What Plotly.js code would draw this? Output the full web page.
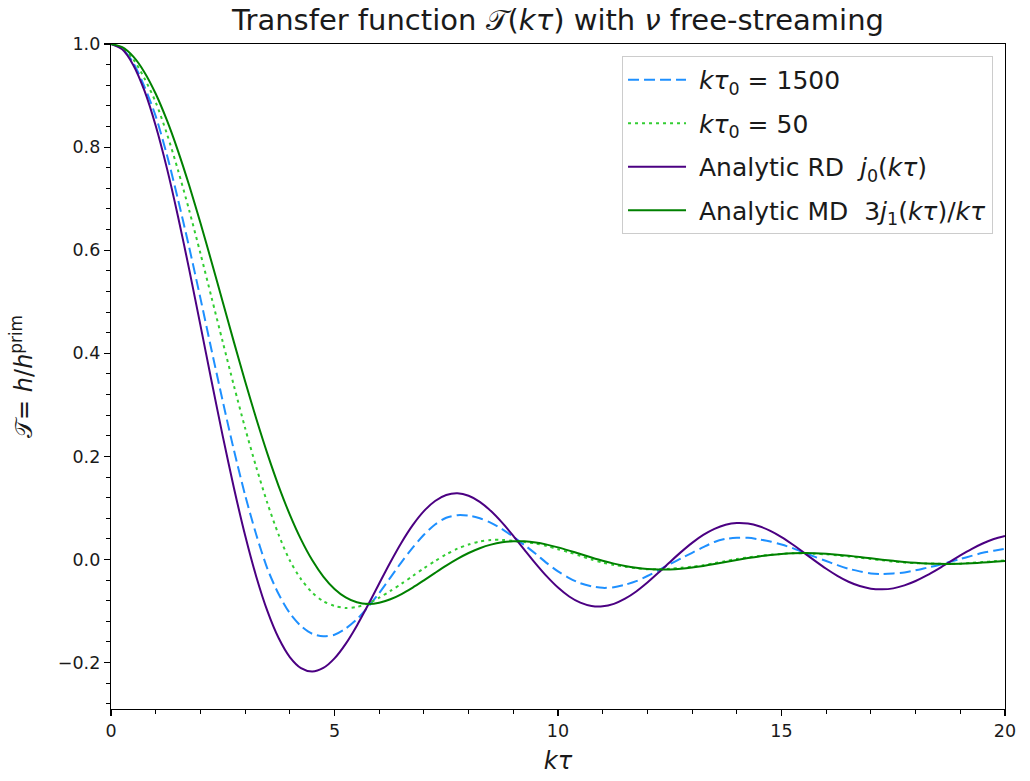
<!DOCTYPE html>
<html>
<head>
<meta charset="utf-8">
<script src="https://cdn.plot.ly/plotly-3.0.1.min.js"></script>
<style>
  html, body { margin: 0; padding: 0; background: #fff; }
  #chart { width: 1030px; height: 781px; }
</style>
</head>
<body>
<div id="chart"></div>
<script>
// k*tau sample points (step 0.25)
const kTau = [
  0, 0.25, 0.5, 0.75, 1, 1.25, 1.5, 1.75, 2, 2.25, 2.5, 2.75, 3, 3.25, 3.5, 3.75,
  4, 4.25, 4.5, 4.75, 5, 5.25, 5.5, 5.75, 6, 6.25, 6.5, 6.75, 7, 7.25, 7.5, 7.75,
  8, 8.25, 8.5, 8.75, 9, 9.25, 9.5, 9.75, 10, 10.25, 10.5, 10.75, 11, 11.25, 11.5, 11.75,
  12, 12.25, 12.5, 12.75, 13, 13.25, 13.5, 13.75, 14, 14.25, 14.5, 14.75, 15, 15.25, 15.5, 15.75,
  16, 16.25, 16.5, 16.75, 17, 17.25, 17.5, 17.75, 18, 18.25, 18.5, 18.75, 19, 19.25, 19.5, 19.75, 20];

// Numerical transfer function, k*tau0 = 1500
const freeStream1500 = [
  1.000, 0.991, 0.963, 0.917, 0.860, 0.785, 0.698, 0.605, 0.507, 0.406, 0.307, 0.212, 0.125, 0.048, -0.018, -0.067,
  -0.104, -0.129, -0.144, -0.149, -0.146, -0.134, -0.116, -0.092, -0.065, -0.035, -0.005, 0.023, 0.048, 0.068, 0.081, 0.086,
  0.085, 0.080, 0.071, 0.059, 0.044, 0.028, 0.011, -0.007, -0.023, -0.036, -0.046, -0.052, -0.055, -0.054, -0.049, -0.042,
  -0.032, -0.021, -0.009, 0.002, 0.013, 0.024, 0.034, 0.040, 0.042, 0.042, 0.039, 0.035, 0.029, 0.022, 0.0135, 0.005,
  -0.003, -0.011, -0.018, -0.023, -0.027, -0.028, -0.027, -0.025, -0.021, -0.016, -0.011, -0.005, 0.001, 0.007, 0.013, 0.017, 0.021];

// Numerical transfer function, k*tau0 = 50
const freeStream50 = [
  1.000, 0.992, 0.970, 0.933, 0.887, 0.826, 0.755, 0.677, 0.594, 0.508, 0.422, 0.337, 0.255, 0.179, 0.109, 0.048,
  -0.002, -0.038, -0.064, -0.081, -0.090, -0.094, -0.092, -0.085, -0.074, -0.061, -0.047, -0.032, -0.017, -0.003, 0.010, 0.021,
  0.029, 0.035, 0.038, 0.038, 0.036, 0.034, 0.031, 0.026, 0.020, 0.014, 0.007, 0.000, -0.006, -0.0105, -0.014, -0.017,
  -0.019, -0.019, -0.018, -0.016, -0.014, -0.011, -0.007, -0.003, 0.001, 0.004, 0.007, 0.009, 0.011, 0.012, 0.012, 0.011,
  0.010, 0.008, 0.006, 0.0035, 0.001, -0.0015, -0.004, -0.006, -0.007, -0.0077, -0.008, -0.0083, -0.008, -0.0067, -0.005, -0.0035, -0.002];

// Radiation-dominated analytic solution j0(k tau)
const analyticRD = [
  1.0000, 0.9896, 0.9589, 0.9089, 0.8415, 0.7592, 0.6650, 0.5623, 0.4546, 0.3458, 0.2394, 0.1388, 0.0470, -0.0333, -0.1002, -0.1524,
  -0.1892, -0.2106, -0.2172, -0.2104, -0.1918, -0.1636, -0.1283, -0.0884, -0.0466, -0.0053, 0.0331, 0.0667, 0.0939, 0.1135, 0.1251, 0.1283,
  0.1237, 0.1118, 0.0939, 0.0714, 0.0458, 0.0188, -0.0079, -0.0328, -0.0544, -0.0717, -0.0838, -0.0902, -0.0909, -0.0860, -0.0761, -0.0620,
  -0.0447, -0.0254, -0.0053, 0.0143, 0.0323, 0.0477, 0.0595, 0.0674, 0.0708, 0.0697, 0.0645, 0.0555, 0.0434, 0.0290, 0.0134, -0.0027,
  -0.0180, -0.0317, -0.0432, -0.0515, -0.0566, -0.0579, -0.0560, -0.0502, -0.0417, -0.0309, -0.0185, -0.0053, 0.0079, 0.0203, 0.0311, 0.0397, 0.0456];

// Matter-dominated analytic solution 3 j1(k tau)/(k tau)
const analyticMD = [
  1.0000, 0.9938, 0.9754, 0.9449, 0.9035, 0.8522, 0.7923, 0.7254, 0.6531, 0.5772, 0.4995, 0.4217, 0.3457, 0.2729, 0.2048, 0.1425,
  0.0871, 0.0391, -0.0010, -0.0330, -0.0571, -0.0735, -0.0830, -0.0862, -0.0839, -0.0772, -0.0670, -0.0544, -0.0404, -0.0259, -0.0118, 0.0012,
  0.0126, 0.0219, 0.0289, 0.0334, 0.0354, 0.0352, 0.0329, 0.0289, 0.0235, 0.0173, 0.0107, 0.0040, -0.0024, -0.0080, -0.0127, -0.0162,
  -0.0185, -0.0195, -0.0193, -0.0179, -0.0155, -0.0124, -0.0088, -0.0049, -0.0010, 0.0027, 0.0060, 0.0087, 0.0107, 0.0119, 0.0124, 0.0121,
  0.0110, 0.0094, 0.0073, 0.0048, 0.0023, -0.0003, -0.0025, -0.0048, -0.0065, -0.0077, -0.0084, -0.0085, -0.0082, -0.0073, -0.0060, -0.0045, -0.0027];

const seriesNames = [
  '\u00a0<i>kτ</i><sub>0</sub> = 1500',
  '\u00a0<i>kτ</i><sub>0</sub> = 50',
  '\u00a0Analytic RD  <i>j</i><sub>0</sub>(<i>kτ</i>)',
  '\u00a0Analytic MD  3<i>j</i><sub>1</sub>(<i>kτ</i>)/<i>kτ</i>'
];

const FONT = 'DejaVu Sans, Liberation Sans, sans-serif';
const TEXT = '#1a1a1a';

function curve(y, name, color, dash, group) {
  return {
    x: kTau, y: y, name: name, type: 'scatter', mode: 'lines',
    legendgroup: group,
    line: { color: color, width: 2, dash: dash, shape: 'spline', smoothing: 0.8 }
  };
}

const traces = [
  curve(freeStream1500, seriesNames[0], '#1E90FF', '11px,5px', 'a'),
  curve(freeStream50, seriesNames[1], '#32CD32', '3px,4px', 'b'),
  curve(analyticRD, seriesNames[2], '#4B0082', 'solid', 'c'),
  curve(analyticMD, seriesNames[3], '#008000', 'solid', 'd')
];

const axisCommon = {
  showline: true, mirror: true, linecolor: '#000', linewidth: 1.2,
  ticks: 'outside', ticklen: 6, tickwidth: 1.2, tickcolor: '#000',
  showgrid: false, zeroline: false,
  tickfont: { family: FONT, size: 17.5, color: TEXT }
};

const layout = {
  width: 1030, height: 781,
  margin: { l: 111, r: 25, t: 44, b: 72 },
  paper_bgcolor: '#fff', plot_bgcolor: '#fff',
  font: { family: FONT, color: TEXT },
  title: {
    text: 'Transfer function 𝒯(<i>kτ</i>) with <i>ν</i> free-streaming',
    font: { family: FONT, size: 29, color: TEXT },
    xref: 'paper', x: 0.5, xanchor: 'center',
    yref: 'container', y: 0.975, yanchor: 'middle'
  },
  xaxis: Object.assign({}, axisCommon, {
    range: [0, 20], tickvals: [0, 5, 10, 15, 20],
    minor: { dtick: 1, tick0: 0, ticks: 'outside', ticklen: 3.5, tickwidth: 1, tickcolor: '#000' },
    title: { text: '<i>kτ</i>', font: { family: FONT, size: 24, color: TEXT }, standoff: 12 }
  }),
  yaxis: Object.assign({}, axisCommon, {
    range: [-0.29, 1.0], tickvals: [-0.2, 0, 0.2, 0.4, 0.6, 0.8, 1.0], tickformat: '.1f',
    minor: { dtick: 0.04, tick0: 0, ticks: 'outside', ticklen: 3.5, tickwidth: 1, tickcolor: '#000' },
    title: { text: '𝒯= <i>h</i>/<i>h</i><sup>prim</sup>', font: { family: FONT, size: 24, color: TEXT }, standoff: 18 }
  }),
  showlegend: true,
  legend: {
    x: 0.9866, xanchor: 'right', y: 0.982, yanchor: 'top',
    bgcolor: 'rgba(255,255,255,0.85)', bordercolor: '#cccccc', borderwidth: 1,
    font: { family: FONT, size: 25, color: TEXT },
    tracegroupgap: 8, itemwidth: 58
  }
};

Plotly.newPlot('chart', traces, layout, { displayModeBar: false, staticPlot: true });
</script>
</body>
</html>
